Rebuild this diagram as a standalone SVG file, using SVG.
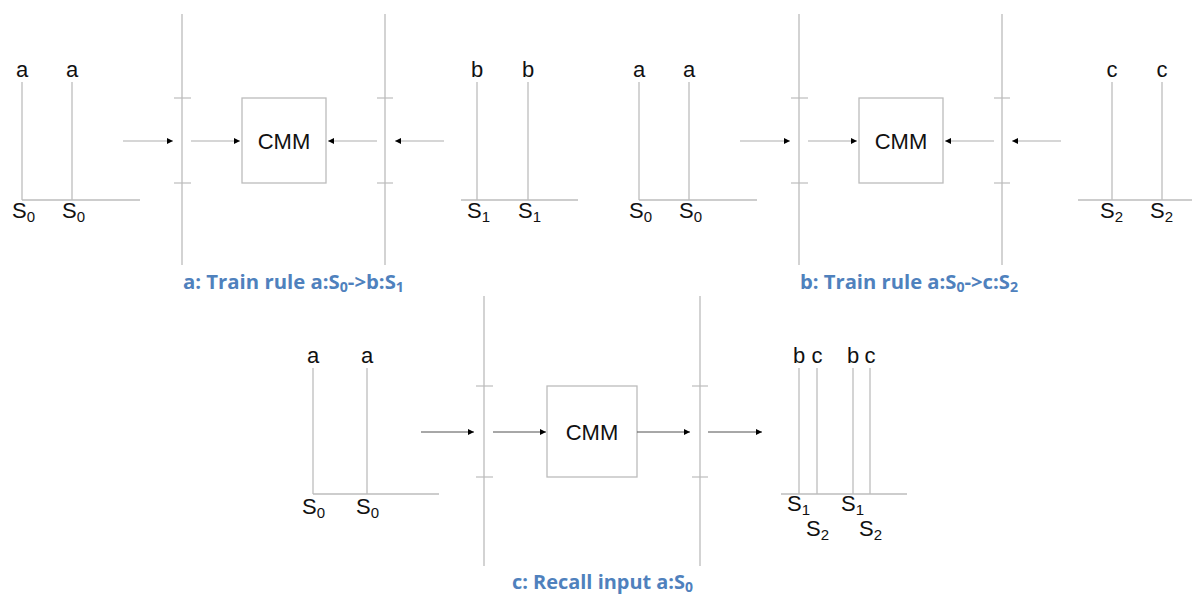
<svg xmlns="http://www.w3.org/2000/svg" width="1192" height="594" viewBox="0 0 1192 594">
<style>
.ln{stroke:#bdbdbd;stroke-width:1.3;fill:none}
.bus{stroke:#c4c4c4;stroke-width:1.5;fill:none}
.tick{stroke:#bdbdbd;stroke-width:1.2}
.box{fill:#fff;stroke:#bcbcbc;stroke-width:1.3}
.arL{stroke:#c8c8c8;stroke-width:1.6;fill:none}
.arD{stroke:#505050;stroke-width:1;fill:none}
.lb{font-family:"Liberation Sans",Arial,sans-serif;font-size:22px;fill:#111}
.sub{font-size:15px}
.cmm{font-family:"Liberation Sans",Arial,sans-serif;font-size:22px;fill:#111;text-anchor:middle}
.cap{font-family:"Open Sans","Liberation Sans",sans-serif;font-weight:bold;font-size:20px;fill:#4f81bd}
.csub{font-size:14px}
</style>
<defs>
<marker id="ah" markerUnits="userSpaceOnUse" markerWidth="8" markerHeight="8" refX="6" refY="3" orient="auto">
<path d="M0,0 L6,3 L0,6 Z" fill="#000"/>
</marker>
</defs>

<!-- Panel a -->
<g id="a-input">
<line class="ln" x1="22" y1="82" x2="22" y2="200"/>
<line class="ln" x1="72" y1="82" x2="72" y2="200"/>
<line class="ln" x1="22" y1="200" x2="140" y2="200"/>
<text class="lb" x="22" y="77" text-anchor="middle">a</text>
<text class="lb" x="72" y="77" text-anchor="middle">a</text>
<text class="lb" x="12" y="218">S<tspan class="sub" dy="4">0</tspan></text>
<text class="lb" x="62" y="218">S<tspan class="sub" dy="4">0</tspan></text>
</g>
<g id="a-bus1">
<line class="bus" x1="182" y1="14" x2="182" y2="265"/>
<line class="tick" x1="174" y1="98" x2="191" y2="98"/>
<line class="tick" x1="174" y1="183" x2="191" y2="183"/>
</g>
<g id="a-cmm">
<rect class="box" x="242" y="98" width="84" height="85"/>
<text class="cmm" x="284" y="149">CMM</text>
</g>
<g id="a-bus2">
<line class="bus" x1="385" y1="14" x2="385" y2="265"/>
<line class="tick" x1="377" y1="98" x2="393" y2="98"/>
<line class="tick" x1="377" y1="183" x2="393" y2="183"/>
</g>
<g id="a-output">
<line class="ln" x1="477" y1="82" x2="477" y2="200"/>
<line class="ln" x1="528" y1="82" x2="528" y2="200"/>
<line class="ln" x1="461" y1="200" x2="578" y2="200"/>
<text class="lb" x="477" y="77" text-anchor="middle">b</text>
<text class="lb" x="528" y="77" text-anchor="middle">b</text>
<text class="lb" x="467" y="218">S<tspan class="sub" dy="4">1</tspan></text>
<text class="lb" x="518" y="218">S<tspan class="sub" dy="4">1</tspan></text>
</g>
<g id="a-caption">
<text class="cap" x="183" y="289" textLength="221" lengthAdjust="spacingAndGlyphs">a: Train rule a:S<tspan class="csub" dy="3">0</tspan><tspan dy="-3">-&gt;b:S</tspan><tspan class="csub" dy="3">1</tspan></text>
</g>

<!-- Panel b -->
<g id="b-input">
<line class="ln" x1="639" y1="82" x2="639" y2="200"/>
<line class="ln" x1="689" y1="82" x2="689" y2="200"/>
<line class="ln" x1="639" y1="200" x2="757" y2="200"/>
<text class="lb" x="639" y="77" text-anchor="middle">a</text>
<text class="lb" x="689" y="77" text-anchor="middle">a</text>
<text class="lb" x="629" y="218">S<tspan class="sub" dy="4">0</tspan></text>
<text class="lb" x="679" y="218">S<tspan class="sub" dy="4">0</tspan></text>
</g>
<g id="b-bus1">
<line class="bus" x1="799" y1="14" x2="799" y2="265"/>
<line class="tick" x1="791" y1="98" x2="808" y2="98"/>
<line class="tick" x1="791" y1="183" x2="808" y2="183"/>
</g>
<g id="b-cmm">
<rect class="box" x="859" y="98" width="84" height="85"/>
<text class="cmm" x="901" y="149">CMM</text>
</g>
<g id="b-bus2">
<line class="bus" x1="1002" y1="14" x2="1002" y2="265"/>
<line class="tick" x1="994" y1="98" x2="1010" y2="98"/>
<line class="tick" x1="994" y1="183" x2="1010" y2="183"/>
</g>
<g id="b-output">
<line class="ln" x1="1112" y1="82" x2="1112" y2="200"/>
<line class="ln" x1="1162" y1="82" x2="1162" y2="200"/>
<line class="ln" x1="1078" y1="200" x2="1192" y2="200"/>
<text class="lb" x="1112" y="77" text-anchor="middle">c</text>
<text class="lb" x="1162" y="77" text-anchor="middle">c</text>
<text class="lb" x="1100" y="218">S<tspan class="sub" dy="4">2</tspan></text>
<text class="lb" x="1150" y="218">S<tspan class="sub" dy="4">2</tspan></text>
</g>
<g id="b-caption">
<text class="cap" x="800" y="289" textLength="218" lengthAdjust="spacingAndGlyphs">b: Train rule a:S<tspan class="csub" dy="3">0</tspan><tspan dy="-3">-&gt;c:S</tspan><tspan class="csub" dy="3">2</tspan></text>
</g>

<!-- Panel c -->
<g id="c-input">
<line class="ln" x1="313" y1="368" x2="313" y2="494"/>
<line class="ln" x1="367" y1="368" x2="367" y2="494"/>
<line class="ln" x1="313" y1="494" x2="439" y2="494"/>
<text class="lb" x="313" y="363" text-anchor="middle">a</text>
<text class="lb" x="367" y="363" text-anchor="middle">a</text>
<text class="lb" x="302" y="514">S<tspan class="sub" dy="4">0</tspan></text>
<text class="lb" x="356" y="514">S<tspan class="sub" dy="4">0</tspan></text>
</g>
<g id="c-bus1">
<line class="bus" x1="484" y1="296" x2="484" y2="566"/>
<line class="tick" x1="476" y1="386" x2="493" y2="386"/>
<line class="tick" x1="476" y1="477" x2="493" y2="477"/>
</g>
<g id="c-cmm">
<rect class="box" x="547" y="386" width="90" height="91"/>
<text class="cmm" x="592" y="440">CMM</text>
</g>
<g id="c-bus2">
<line class="bus" x1="700" y1="296" x2="700" y2="566"/>
<line class="tick" x1="692" y1="386" x2="708" y2="386"/>
<line class="tick" x1="692" y1="477" x2="708" y2="477"/>
</g>
<g id="c-output">
<line class="ln" x1="799" y1="368" x2="799" y2="494"/>
<line class="ln" x1="817" y1="368" x2="817" y2="494"/>
<line class="ln" x1="853" y1="368" x2="853" y2="494"/>
<line class="ln" x1="870" y1="368" x2="870" y2="494"/>
<line class="ln" x1="781" y1="494" x2="907" y2="494"/>
<text class="lb" x="799" y="363" text-anchor="middle">b</text>
<text class="lb" x="817" y="363" text-anchor="middle">c</text>
<text class="lb" x="853" y="363" text-anchor="middle">b</text>
<text class="lb" x="870" y="363" text-anchor="middle">c</text>
<text class="lb" x="787" y="511">S<tspan class="sub" dy="4">1</tspan></text>
<text class="lb" x="841" y="511">S<tspan class="sub" dy="4">1</tspan></text>
<text class="lb" x="806" y="536">S<tspan class="sub" dy="4">2</tspan></text>
<text class="lb" x="859" y="536">S<tspan class="sub" dy="4">2</tspan></text>
</g>
<g id="c-caption">
<text class="cap" x="512" y="589" textLength="181" lengthAdjust="spacingAndGlyphs">c: Recall input a:S<tspan class="csub" dy="3">0</tspan></text>
</g>

<g id="connectors">
<line class="arL" x1="123" y1="141" x2="173" y2="141" marker-end="url(#ah)"/>
<line class="arL" x1="191" y1="141" x2="240" y2="141" marker-end="url(#ah)"/>
<line class="arL" x1="377" y1="141" x2="328" y2="141" marker-end="url(#ah)"/>
<line class="arL" x1="444" y1="141" x2="395" y2="141" marker-end="url(#ah)"/>
<line class="arL" x1="740" y1="141" x2="790" y2="141" marker-end="url(#ah)"/>
<line class="arL" x1="808" y1="141" x2="857" y2="141" marker-end="url(#ah)"/>
<line class="arL" x1="994" y1="141" x2="945" y2="141" marker-end="url(#ah)"/>
<line class="arL" x1="1061" y1="141" x2="1012" y2="141" marker-end="url(#ah)"/>
<line class="arD" x1="421" y1="432" x2="474" y2="432" marker-end="url(#ah)"/>
<line class="arD" x1="493" y1="432" x2="546" y2="432" marker-end="url(#ah)"/>
<line class="arD" x1="637" y1="432" x2="690" y2="432" marker-end="url(#ah)"/>
<line class="arD" x1="708" y1="432" x2="762" y2="432" marker-end="url(#ah)"/>
</g>
</svg>
